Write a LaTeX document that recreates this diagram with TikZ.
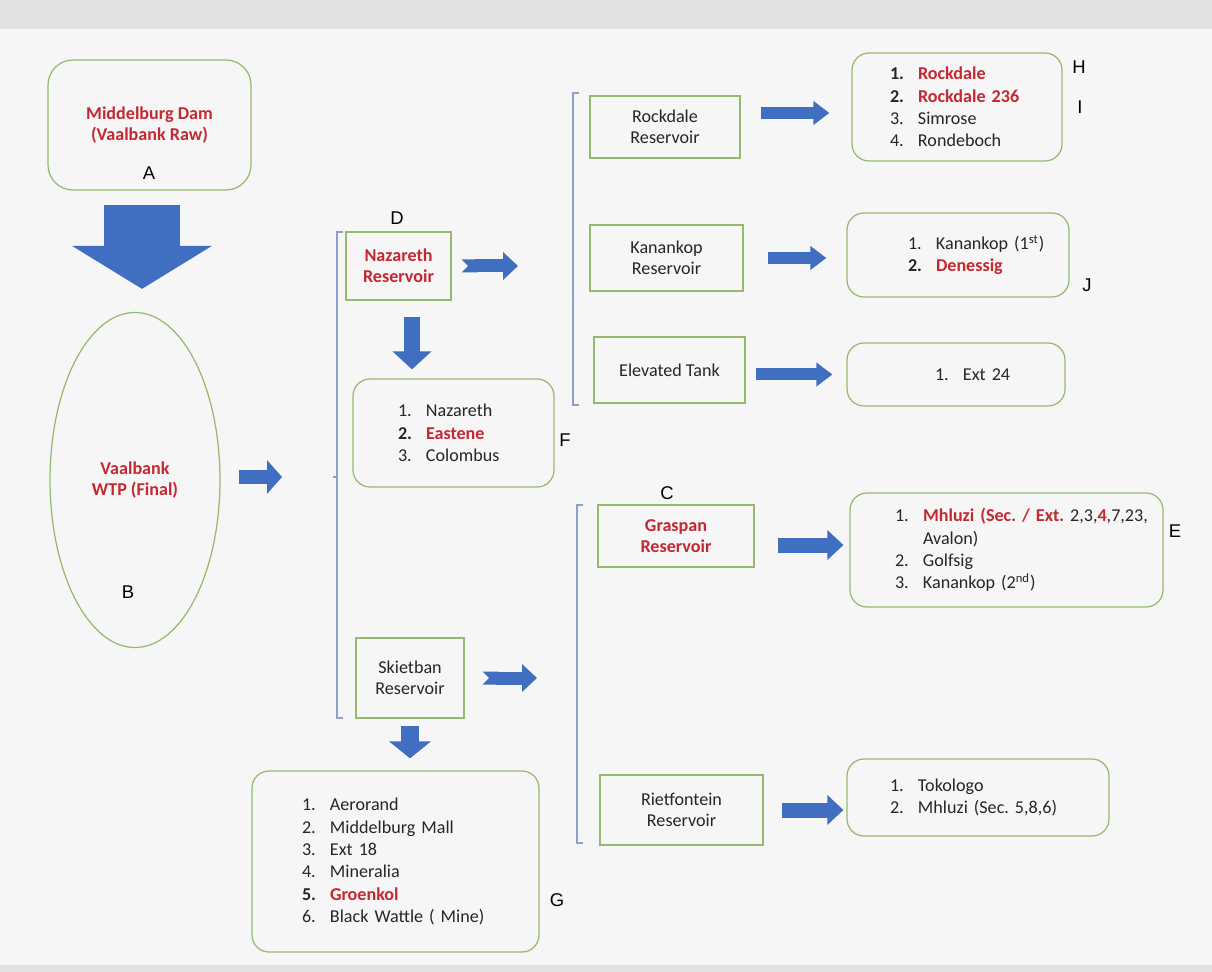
\documentclass[tikz,border=0pt]{standalone}
\usepackage{fontspec}
\setmainfont{Carlito}
\newfontfamily\tagfont{Liberation Sans}
\usepackage{tikz}
\usetikzlibrary{arrows.meta, shapes.geometric}
\definecolor{pagegray}{RGB}{246,246,246}
\definecolor{bandgray}{RGB}{226,226,226}
\definecolor{boxgreen}{RGB}{150,185,110}
\definecolor{flowblue}{RGB}{64,110,192}
\definecolor{bracketblue}{RGB}{140,160,200}
\definecolor{alertred}{RGB}{196,40,50}
\definecolor{inkgray}{RGB}{38,38,38}
\newdimen\px \px=0.02cm
\frenchspacing
\newcommand{\hl}[1]{\textbf{\textcolor{alertred}{#1}}}
\newcommand{\itm}[2]{\makebox[28\px][l]{#1}\mbox{#2}}
\tikzset{
  resbox/.style={rectangle, draw=boxgreen, line width=0.7pt, text=inkgray,
    align=center, inner sep=0pt, font=\fontsize{10.3}{12.2}\selectfont},
  listbox/.style={rectangle, rounded corners=0.34cm, draw=boxgreen, line width=0.7pt,
    text=inkgray, align=left, inner ysep=0pt, font=\fontsize{10.3}{12.7}\selectfont},
  tag/.style={font=\tagfont\fontsize{10.5}{12}\selectfont, text=black},
  sidearrow/.style={flowblue, line width=0.3cm, -{Triangle[length=0.32cm, width=0.58cm]}},
  smallarrow/.style={flowblue, line width=0.24cm, -{Triangle[length=0.32cm, width=0.46cm]}},
  notcharrow/.style={flowblue, line width=0.26cm, {Triangle Cap[reversed]}-{Triangle[length=0.3cm, width=0.54cm]}},
  downarrow/.style={flowblue, line width=0.34cm, -{Triangle[length=0.36cm, width=0.76cm]}},
  bigarrow/.style={flowblue, line width=1.52cm, -{Triangle[length=0.86cm, width=2.76cm]}},
  bracket/.style={draw=bracketblue, line width=0.6pt},
}
\begin{document}
\begin{tikzpicture}[x=\px, y=-\px]
  \fill[pagegray] (0,0) rectangle (1212,972);
  \fill[bandgray] (0,0) rectangle (1212,29);
  \fill[bandgray] (0,965) rectangle (1212,972);
  \useasboundingbox (0,0) rectangle (1212,972);

  % source and treatment works
  \node[resbox, rounded corners=0.5cm, minimum width=203\px, minimum height=130\px] (dam) at (149.5,125) {\hl{Middelburg Dam}\\\hl{(Vaalbank Raw)}};
  \node[resbox, ellipse, minimum width=170\px, minimum height=335\px] (wtp) at (135,480) {\hl{Vaalbank}\\\hl{WTP (Final)}};

  % reservoirs
  \node[resbox, minimum width=105\px, minimum height=68\px] (naz) at (398.5,266) {\hl{Nazareth}\\\hl{Reservoir}};
  \node[resbox, minimum width=108\px, minimum height=80\px] (skiet) at (410,678) {Skietban\\Reservoir};
  \node[resbox, minimum width=150\px, minimum height=62\px] (rockres) at (665,127) {Rockdale\\Reservoir};
  \node[resbox, minimum width=153\px, minimum height=66\px] (kanres) at (666.5,258) {Kanankop\\Reservoir};
  \node[resbox, minimum width=151\px, minimum height=66\px] (elevtank) at (669.5,370) {Elevated Tank};
  \node[resbox, minimum width=156\px, minimum height=62\px] (graspan) at (676,536) {\hl{Graspan}\\\hl{Reservoir}};
  \node[resbox, minimum width=163\px, minimum height=70\px] (riet) at (681.5,810) {Rietfontein\\Reservoir};

  % supplied areas
  \node[listbox, inner xsep=45\px, text width=111\px, minimum height=108\px] (flist) at (453.5,433)
    {\itm{1.}{Nazareth}\\\itm{\textbf{2.}}{\hl{Eastene}}\\\itm{3.}{Colombus}};
  \node[listbox, inner xsep=50\px, text width=187\px, minimum height=181\px] (glist) at (395.5,861.5)
    {\itm{1.}{Aerorand}\\\itm{2.}{Middelburg Mall}\\\itm{3.}{Ext 18}\\\itm{4.}{Mineralia}\\\itm{\textbf{5.}}{\hl{Groenkol}}\\\itm{6.}{Black Wattle ( Mine)}};
  \node[listbox, inner xsep=38\px, text width=134\px, minimum height=108\px] (hlist) at (957,107)
    {\itm{\textbf{1.}}{\hl{Rockdale}}\\\itm{\textbf{2.}}{\hl{Rockdale 236}}\\\itm{3.}{Simrose}\\\itm{4.}{Rondeboch}};
  \node[listbox, inner xsep=61\px, text width=100\px, minimum height=84\px] (jlist) at (958,255)
    {\itm{1.}{Kanankop (1\textsuperscript{st})}\\\itm{\textbf{2.}}{\hl{Denessig}}};
  \node[listbox, inner xsep=88\px, text width=42\px, minimum height=63\px] (extlist) at (956,374.5)
    {\itm{1.}{Ext 24}};
  \node[listbox, inner xsep=45\px, text width=223\px, minimum height=114\px] (elist) at (1006.5,550)
    {\itm{1.}{\hl{Mhluzi (Sec. / Ext.} 2,3,\hl{4},7,23,}\\\itm{}{Avalon)}\\\itm{2.}{Golfsig}\\\itm{3.}{Kanankop (2\textsuperscript{nd})}};
  \node[listbox, inner xsep=43\px, text width=176\px, minimum height=77\px] (toklist) at (978,797.5)
    {\itm{1.}{Tokologo}\\\itm{2.}{Mhluzi (Sec. 5,8,6)}};

  % letters
  \node[tag] (tagA) at (149,173) {A};
  \node[tag] (tagB) at (128,592) {B};
  \node[tag] (tagC) at (667,493) {C};
  \node[tag] (tagD) at (397,218) {D};
  \node[tag] (tagE) at (1175,531) {E};
  \node[tag] (tagF) at (565,440) {F};
  \node[tag] (tagG) at (557,900) {G};
  \node[tag] (tagH) at (1079,67) {H};
  \node[tag] (tagI) at (1080,107) {I};
  \node[tag] (tagJ) at (1087,285) {J};

  % brackets
  \draw[bracket] (343,232) -- (337,232) -- (337,718) -- (343,718);
  \draw[bracket] (333,477) -- (337,477);
  \draw[bracket] (579,93) -- (573,93) -- (573,405) -- (579,405);
  \draw[bracket] (583,505) -- (577,505) -- (577,843) -- (583,843);
  \coordinate (lbr) at (333,477);
  \coordinate (rbrA) at (573,268);
  \coordinate (rbrB) at (577,676);

  % flow arrows
  \coordinate (damfoot) at ([xshift=-7.5\px]dam.south);
  \draw[bigarrow, shorten <=0.28cm, shorten >=0.46cm] (damfoot) -- (damfoot |- wtp.north);
  \draw[flowblue, line width=0.3cm, -{Triangle[length=0.3cm, width=0.66cm]}, shorten <=0.36cm, shorten >=1.02cm] (wtp.east |- lbr) -- (lbr);
  \draw[notcharrow, shorten <=0.2cm, shorten >=1.1cm] (naz.east) -- (naz.east -| rbrA);
  \coordinate (nazfoot) at ([xshift=13.5\px]naz.south);
  \draw[downarrow, line width=0.32cm, shorten <=0.32cm, shorten >=0.18cm] (nazfoot) -- (nazfoot |- flist.north);
  \coordinate (rockout) at ([yshift=14\px]rockres.east);
  \draw[smallarrow, shorten <=0.4cm, shorten >=0.44cm] (rockout) -- (rockout -| hlist.west);
  \draw[smallarrow, shorten <=0.48cm, shorten >=0.4cm] (kanres.east) -- (kanres.east -| jlist.west);
  \draw[smallarrow, shorten <=0.2cm, shorten >=0.28cm] (extlist.west -| elevtank.east) -- (extlist.west);
  \coordinate (grasout) at ([yshift=-9\px]graspan.east);
  \draw[sidearrow, shorten <=0.46cm, shorten >=0.12cm] (grasout) -- (grasout -| elist.west);
  \draw[sidearrow, shorten <=0.36cm, shorten >=0.06cm] (riet.east) -- (riet.east -| toklist.west);
  \draw[notcharrow, shorten <=0.36cm, shorten >=0.8cm] (skiet.east) -- (skiet.east -| rbrB);
  \draw[downarrow, line width=0.36cm, -{Triangle[length=0.34cm, width=0.82cm]}, shorten <=0.14cm, shorten >=0.24cm] (skiet.south) -- (skiet.south |- glist.north);
\end{tikzpicture}
\end{document}
